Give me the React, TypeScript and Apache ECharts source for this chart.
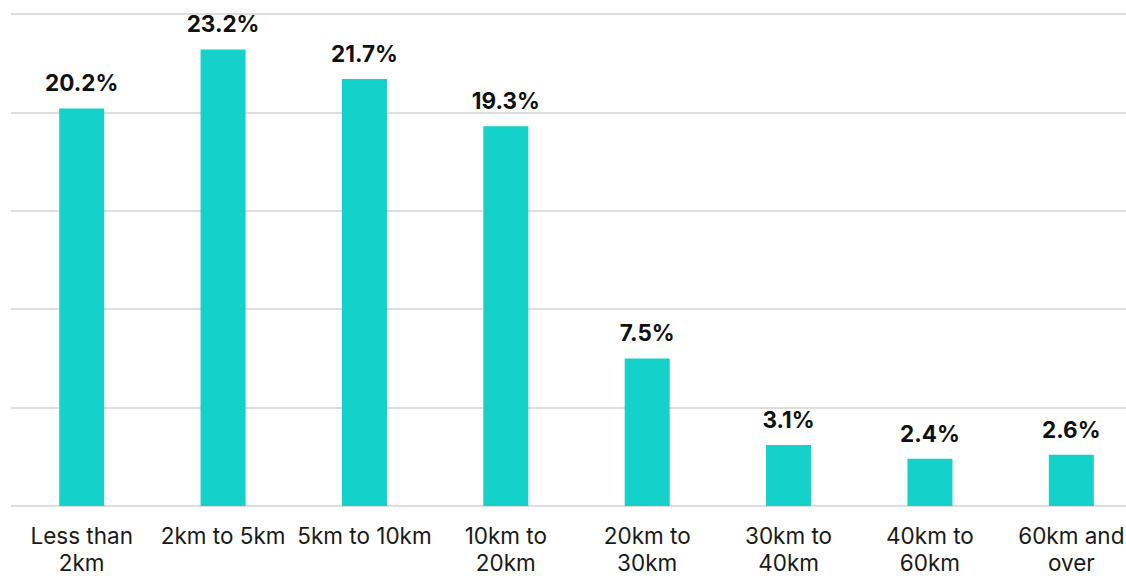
import React, { useEffect, useRef } from "react";
import * as echarts from "echarts";

// Share of trips by distance band
const categories: string[] = [
  "Less than\n2km",
  "2km to 5km",
  "5km to 10km",
  "10km to\n20km",
  "20km to\n30km",
  "30km to\n40km",
  "40km to\n60km",
  "60km and\nover",
];
const shares: number[] = [20.2, 23.2, 21.7, 19.3, 7.5, 3.1, 2.4, 2.6];

const BAR_COLOR = "#14D1C9";
const GRID_COLOR = "#dedede";
const FONT = "Inter, 'Noto Sans', Arial, sans-serif";

export default function App() {
  const ref = useRef<HTMLDivElement>(null);

  useEffect(() => {
    if (!ref.current) return;
    const chart = echarts.init(ref.current, undefined, { renderer: "svg" });
    chart.setOption({
      animation: false,
      backgroundColor: "#ffffff",
      grid: { left: 11, right: 0, top: 14, bottom: 64, containLabel: false },
      xAxis: {
        type: "category",
        data: categories,
        axisLine: { show: false },
        axisTick: { show: false },
        axisLabel: {
          interval: 0,
          color: "#1a1a1a",
          fontFamily: FONT,
          fontSize: 22.5,
          lineHeight: 27,
          margin: 16,
        },
      },
      yAxis: {
        type: "value",
        min: 0,
        max: 25,
        interval: 5,
        axisLabel: { show: false },
        axisLine: { show: false },
        axisTick: { show: false },
        splitLine: { lineStyle: { color: GRID_COLOR, width: 2 } },
      },
      series: [
        {
          type: "bar",
          data: shares,
          barWidth: 45,
          itemStyle: { color: BAR_COLOR },
          label: {
            show: true,
            position: "top",
            distance: 14,
            formatter: (p: any) => `${p.value.toFixed(1)}%`,
            color: "#111111",
            fontFamily: FONT,
            fontWeight: "bold",
            fontSize: 22.5,
          },
        },
      ],
    });
    return () => chart.dispose();
  }, []);

  // The plot runs a little past the right edge of the window
  return (
    <div
      ref={ref}
      style={{ position: "fixed", left: 0, top: 0, width: 1142, height: 576 }}
    />
  );
}
